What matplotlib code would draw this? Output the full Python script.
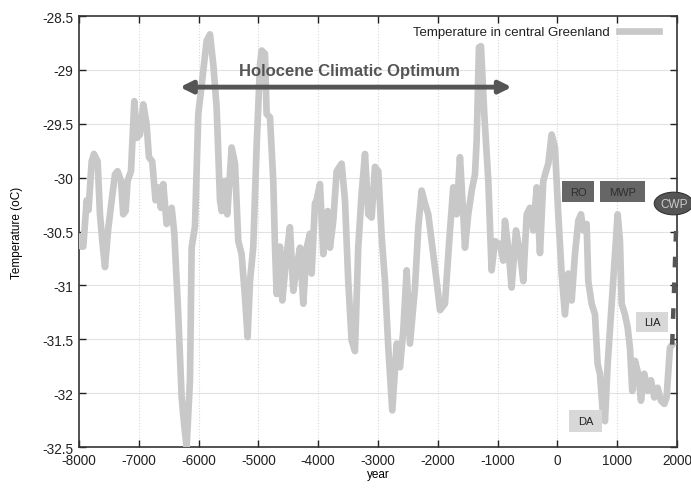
import numpy as np
import matplotlib.pyplot as plt
from matplotlib.patches import Ellipse, Rectangle

plt.rcParams['font.family'] = ['Liberation Sans', 'DejaVu Sans']
plt.rcParams['axes.unicode_minus'] = False

# central Greenland temperature reconstruction (year, deg C)
year = [-8000, -7960, -7928, -7871, -7840, -7788, -7750, -7688, -7649, -7610,
        -7565, -7510, -7453, -7398, -7355, -7298, -7260, -7220, -7187, -7130,
        -7075, -7030, -6980, -6925, -6870, -6830, -6775, -6720, -6675, -6630,
        -6590, -6535, -6485, -6450, -6405, -6340, -6283, -6240, -6200, -6144,
        -6116, -6060, -6005, -5940, -5865, -5809, -5754, -5698, -5642, -5614,
        -5559, -5520, -5447, -5391, -5336, -5280, -5224, -5180, -5140, -5085,
        -5030, -4973, -4945, -4890, -4862, -4806, -4751, -4722, -4694, -4639,
        -4600, -4527, -4472, -4416, -4360, -4304, -4249, -4193, -4137, -4109,
        -4054, -4026, -3970, -3915, -3841, -3803, -3747, -3691, -3608, -3552,
        -3497, -3441, -3385, -3330, -3274, -3217, -3162, -3106, -3050, -2995,
        -2938, -2883, -2827, -2761, -2687, -2632, -2577, -2520, -2465, -2381,
        -2326, -2270, -2214, -2159, -2075, -2019, -1963, -1880, -1796, -1741,
        -1685, -1629, -1574, -1545, -1490, -1433, -1378, -1350, -1311, -1278,
        -1222, -1155, -1100, -1043, -960, -905, -877, -821, -765, -692,
        -625, -570, -513, -458, -403, -346, -291, -236, -152, -96,
        -40, 15, 71, 127, 183, 239, 294, 350, 395, 433,
        489, 517, 573, 629, 673, 712, 757, 796, 841, 896,
        952, 1008, 1047, 1075, 1130, 1175, 1214, 1252, 1298, 1353,
        1398, 1453, 1510, 1565, 1620, 1677, 1732, 1788, 1826, 1882,
        1920]
temp = [-30.55, -30.64, -30.64, -30.21, -30.30, -29.85, -29.78, -29.85, -30.34, -30.59,
        -30.83, -30.47, -30.21, -29.97, -29.94, -30.03, -30.34, -30.31, -30.03, -29.94,
        -29.29, -29.63, -29.60, -29.32, -29.50, -29.81, -29.85, -30.21, -30.09, -30.28,
        -30.06, -30.43, -30.40, -30.28, -30.52, -31.27, -32.04, -32.30, -32.50, -31.88,
        -30.65, -30.45, -29.41, -29.10, -28.73, -28.67, -28.95, -29.35, -30.21, -30.31,
        -30.03, -30.34, -29.72, -29.87, -30.59, -30.71, -31.11, -31.48, -30.96, -30.64,
        -29.72, -28.95, -28.82, -28.85, -29.41, -29.44, -30.03, -30.64, -31.08, -30.64,
        -31.14, -30.71, -30.46, -31.05, -30.83, -30.65, -31.17, -30.65, -30.52, -30.89,
        -30.24, -30.21, -30.06, -30.71, -30.31, -30.65, -30.40, -29.94, -29.87, -30.21,
        -30.96, -31.51, -31.61, -30.65, -30.15, -29.78, -30.34, -30.37, -29.90, -29.94,
        -30.55, -30.96, -31.58, -32.16, -31.54, -31.76, -31.42, -30.86, -31.54, -31.02,
        -30.46, -30.12, -30.24, -30.34, -30.71, -30.96, -31.23, -31.17, -30.49, -30.09,
        -30.34, -29.81, -30.34, -30.65, -30.34, -30.12, -29.97, -29.66, -28.79, -28.78,
        -29.41, -30.03, -30.86, -30.59, -30.62, -30.77, -30.40, -30.65, -31.02, -30.49,
        -30.70, -30.96, -30.34, -30.28, -30.49, -30.09, -30.70, -30.03, -29.87, -29.60,
        -29.72, -30.34, -30.89, -31.27, -30.89, -31.14, -30.71, -30.40, -30.34, -30.49,
        -30.43, -30.96, -31.17, -31.27, -31.73, -31.82, -32.16, -32.26, -31.73, -31.27,
        -30.80, -30.34, -30.59, -31.17, -31.27, -31.39, -31.58, -31.98, -31.70, -31.82,
        -32.07, -31.82, -31.98, -31.88, -32.04, -31.95, -32.07, -32.10, -32.04, -31.58,
        -31.55]

# recent warming, drawn dashed
cwp_year = [1920, 1990]
cwp_temp = [-31.55, -30.40]

# period labels: text, year, temp, width (yr), height (deg), face, text colour
periods = [('RO', 344, -30.13, 545, 0.198, '#666666', '#2e2e2e'),
           ('MWP', 1089, -30.13, 753, 0.198, '#666666', '#2e2e2e'),
           ('LIA', 1582, -31.34, 540, 0.19, '#d8d8d8', '#222222'),
           ('DA', 470, -32.26, 542, 0.20, '#d8d8d8', '#222222')]

fig = plt.figure(figsize=(6.91, 4.89), dpi=100)
ax = fig.add_axes([0.1143, 0.0838, 0.8654, 0.8814])

ax.plot(year, temp, color='#c8c8c8', lw=4.8, solid_joinstyle='round',
        label='Temperature in central Greenland', zorder=3)
ax.plot(cwp_year, cwp_temp, color='#555555', lw=3.2, dashes=(2.4, 3.4),
        zorder=4, clip_on=False)

ax.set_xlim(-8000, 2000)
ax.set_ylim(-32.5, -28.5)
ax.set_xticks(np.arange(-8000, 2001, 1000))
ax.set_yticks(np.arange(-32.5, -28.49, 0.5))
ax.set_yticklabels(['-32.5', '-32', '-31.5', '-31', '-30.5', '-30', '-29.5', '-29', '-28.5'])
ax.tick_params(direction='in', top=True, right=True, length=5, width=1,
               labelsize=9.8, colors='#222222', pad=4)
for s in ax.spines.values():
    s.set_color('#333333')
    s.set_linewidth(1.2)

# grid: solid horizontal, dotted vertical
for t in np.arange(-32, -28.5, 0.5):
    ax.axhline(t, color='#e2e2e2', lw=0.8, zorder=1)
for x in np.arange(-7000, 2000, 1000):
    ax.axvline(x, color='#d8d8d8', lw=0.8, ls=':', zorder=1)

ax.set_xlabel('year', fontsize=8.5, labelpad=1)
ax.set_ylabel('Temperature (oC)', fontsize=8.5, labelpad=14)

ax.annotate('', xy=(-6311, -29.16), xytext=(-764, -29.16),
            arrowprops=dict(arrowstyle='<|-|>', color='#555555', lw=3.5,
                            mutation_scale=18, shrinkA=0, shrinkB=0), zorder=5)
ax.text(-3473, -29.01, 'Holocene Climatic Optimum', fontsize=12,
        fontweight='bold', color='#555555', ha='center', va='center', zorder=6)

for name, x, y, w, h, fc, tc in periods:
    ax.add_patch(Rectangle((x - w / 2, y - h / 2), w, h, facecolor=fc,
                           edgecolor='none', zorder=6))
    ax.text(x, y, name, fontsize=8, color=tc, ha='center', va='center', zorder=7)

ax.add_patch(Ellipse((1945, -30.24), 650, 0.21, facecolor='#555555',
                     edgecolor='#333333', lw=0.8, zorder=8, clip_on=False))
ax.text(1945, -30.24, 'CWP', fontsize=8.5, color='#cccccc', ha='center',
        va='center', zorder=9, clip_on=False)

leg = ax.legend(loc='upper right', bbox_to_anchor=(0.985, 0.998), frameon=False,
                markerfirst=False, handlelength=3.0, fontsize=9.5,
                borderaxespad=0.3, handletextpad=0.7)
for t in leg.get_texts():
    t.set_color('#222222')

fig.savefig('out.png', dpi=100)
